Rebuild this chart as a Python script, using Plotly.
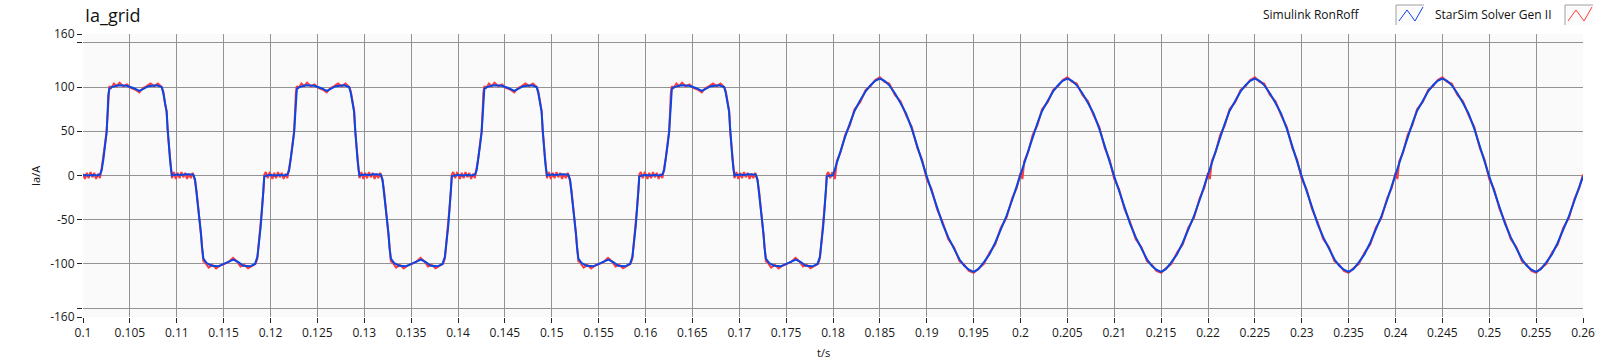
import plotly.graph_objects as go

# ---------------- data ----------------
title_text = "Ia_grid"
x_label = "t/s"
y_label = "Ia/A"
series_names = ["Simulink RonRoff", "StarSim Solver Gen II"]
series_colors = ["#0a46e6", "#ff3c3c"]

# the waveform repeats: four square-like periods, then four sine-like periods
square_period_starts = [0.10, 0.12, 0.14, 0.16]
sine_period_starts = [0.18, 0.20, 0.22, 0.24]

# one square-like period, Simulink RonRoff (time offset in s, current in A)
sq_blue_dt = [0.0000, 0.0005, 0.0010, 0.0015, 0.0018, 0.00199, 0.00217, 0.00235,
              0.00252, 0.00263, 0.00270, 0.00281, 0.00306, 0.00377, 0.00466,
              0.00537, 0.00601, 0.00644, 0.00697, 0.00786, 0.00839, 0.00857,
              0.00875, 0.00892, 0.00903, 0.00914, 0.00928, 0.00939, 0.00949,
              0.0100, 0.0105, 0.0110, 0.01177, 0.01195, 0.01212, 0.01230,
              0.01248, 0.01259, 0.01269, 0.01284, 0.01319, 0.01372, 0.01444,
              0.01515, 0.01604, 0.01657, 0.01710, 0.01781, 0.01835, 0.01860,
              0.01877, 0.01895, 0.01909, 0.01924, 0.01934, 0.01959, 0.0199]
sq_blue_v = [0.5, 0.0, 0.5, 0.0, 1.0, 6, 18, 34,
             49, 72, 91, 98, 100, 102, 101.5,
             99, 95.7, 98, 101, 102, 100, 93,
             83, 72, 53, 34, 18, 7, 0,
             1, 0.5, 1.5, 1, -4.6, -20, -35,
             -50, -66, -81, -94, -99, -102, -102.7,
             -99, -95, -98, -102, -102.7, -100, -92,
             -77, -58, -39, -16, -1, 0, 0.5]

# one square-like period, StarSim Solver Gen II
sq_red_dt = [0.0000, 0.0002, 0.0004, 0.0006, 0.0008, 0.0010, 0.0012, 0.0014, 0.0016, 0.0018,
             0.00199, 0.00217, 0.00235, 0.00252, 0.00263, 0.00270, 0.00281,
             0.0030, 0.0033, 0.0036, 0.0039, 0.0043, 0.0047, 0.0051, 0.0056,
             0.0060, 0.0064, 0.0068, 0.0072, 0.0076, 0.0080, 0.0084,
             0.00857, 0.00875, 0.00892, 0.00903, 0.00914, 0.00928, 0.00939, 0.00949,
             0.0097, 0.0099, 0.0101, 0.0103, 0.0105, 0.0107, 0.0109, 0.0111, 0.0113,
             0.0115, 0.0117,
             0.01195, 0.01212, 0.01230, 0.01248, 0.01259, 0.01269, 0.01284,
             0.0130, 0.0134, 0.0138, 0.0142, 0.0146, 0.0150, 0.0155, 0.0160,
             0.0164, 0.0168, 0.0172, 0.0176, 0.0180, 0.0184,
             0.01860, 0.01877, 0.01895, 0.01909, 0.01924, 0.01934,
             0.0195, 0.0197, 0.0199]
sq_red_v = [2, -4, 3, -3, 4, -2, 3, -4, 2, -3,
            8, 20, 36, 50, 74, 93, 101,
            99, 104, 101, 105, 101, 103, 99, 97,
            94, 99, 101, 104, 101, 104, 100,
            95, 81, 73, 50, 35, 16, 8, -3,
            4, -4, 3, -3, 4, -2, 3, -4, 2,
            -3, 3,
            -6, -18, -37, -48, -68, -79, -97,
            -98, -104, -101, -105, -102, -100, -98, -93,
            -97, -103, -101, -105, -102, -100,
            -94, -75, -60, -37, -18, 1,
            4, -3, 3]

# one sine-like period, Simulink RonRoff
sine_blue_dt = [0.0000, 0.0004, 0.0008, 0.0013, 0.0018, 0.0023, 0.0029, 0.0035,
                0.0040, 0.0045, 0.0050, 0.0055, 0.0060, 0.0066, 0.0072, 0.0078,
                0.0084, 0.0090, 0.0095, 0.0100, 0.0105, 0.0111, 0.0117, 0.0123,
                0.0129, 0.0135, 0.0140, 0.0145, 0.0150, 0.0155, 0.0161, 0.0167,
                0.0173, 0.0179, 0.0185, 0.0191, 0.0196]
sine_blue_v = [0, 14, 28, 44, 59, 73, 85, 95.5,
               102, 107, 109.5, 107, 102, 93, 82, 70,
               53, 34, 16, -1, -17, -36, -55, -70,
               -83, -95, -102, -106.5, -109, -106, -98, -89,
               -76, -61, -46, -28, -12]

# one sine-like period, StarSim Solver Gen II
sine_red_dt = [0.0000, 0.0002, 0.0004, 0.0008, 0.0013, 0.0018, 0.0023, 0.0029, 0.0035,
               0.0040, 0.0045, 0.0050, 0.0055, 0.0060, 0.0066, 0.0072, 0.0078,
               0.0084, 0.0090, 0.0095, 0.0100, 0.0105, 0.0111, 0.0117, 0.0123,
               0.0129, 0.0135, 0.0140, 0.0145, 0.0150, 0.0155, 0.0161, 0.0167,
               0.0173, 0.0179, 0.0185, 0.0191, 0.0196]
sine_red_v = [3, -4, 16, 26, 46, 57, 75, 83, 97,
              101, 108, 111, 106, 104, 91, 84, 68,
              55, 31, 18, -4, -15, -38, -53, -72,
              -81, -97, -101, -108, -110, -105, -100, -87,
              -78, -59, -48, -26, -14]

end_t = 0.26
end_blue_v = -1
end_red_v = 1

x_tick_vals = [0.1, 0.105, 0.11, 0.115, 0.12, 0.125, 0.13, 0.135, 0.14, 0.145,
               0.15, 0.155, 0.16, 0.165, 0.17, 0.175, 0.18, 0.185, 0.19, 0.195,
               0.2, 0.205, 0.21, 0.215, 0.22, 0.225, 0.23, 0.235, 0.24, 0.245,
               0.25, 0.255, 0.26]
x_tick_labels = ["0.1", "0.105", "0.11", "0.115", "0.12", "0.125", "0.13", "0.135",
                 "0.14", "0.145", "0.15", "0.155", "0.16", "0.165", "0.17", "0.175",
                 "0.18", "0.185", "0.19", "0.195", "0.2", "0.205", "0.21", "0.215",
                 "0.22", "0.225", "0.23", "0.235", "0.24", "0.245", "0.25", "0.255",
                 "0.26"]
y_tick_vals = [-160, -150, -100, -50, 0, 50, 100, 150, 160]
y_tick_labels = ["-160", "", "-100", "-50", "0", "50", "100", "", "160"]


# ---------------- build the series from the period tables ----------------
def build(sq_dt, sq_v, sn_dt, sn_v, end_v):
    t, v = [], []
    for s in square_period_starts:
        t += [s + d for d in sq_dt]
        v += list(sq_v)
    for s in sine_period_starts:
        t += [s + d for d in sn_dt]
        v += list(sn_v)
    t.append(end_t)
    v.append(end_v)
    return t, v


blue_t, blue_v = build(sq_blue_dt, sq_blue_v, sine_blue_dt, sine_blue_v, end_blue_v)
red_t, red_v = build(sq_red_dt, sq_red_v, sine_red_dt, sine_red_v, end_red_v)

# ---------------- layout geometry (pixels) ----------------
W, H = 1608, 361
L, R, T, B = 83, 25, 34, 44
PW, PH = W - L - R, H - T - B
FONT = "Open Sans, Noto Sans, DejaVu Sans, sans-serif"


def px(x):
    return (x - L) / PW


def py(y):
    return (H - B - y) / PH


fig = go.Figure()
fig.add_trace(go.Scatter(x=red_t, y=red_v, mode="lines", name=series_names[1],
                         line=dict(color=series_colors[1], width=2), showlegend=False))
fig.add_trace(go.Scatter(x=blue_t, y=blue_v, mode="lines", name=series_names[0],
                         line=dict(color=series_colors[0], width=2), showlegend=False))

axis_common = dict(showgrid=True, gridcolor="#939393", gridwidth=1, zeroline=False,
                   showline=False, ticks="outside", ticklen=5, tickwidth=1,
                   tickcolor="#222222", tickfont=dict(family=FONT, size=12, color="#1a1a1a"))
fig.update_xaxes(range=[0.1, 0.26], tickmode="array", tickvals=x_tick_vals,
                 ticktext=x_tick_labels, **axis_common)
fig.update_yaxes(range=[-160, 160], tickmode="array", tickvals=y_tick_vals,
                 ticktext=y_tick_labels, **axis_common)

annotations = [
    dict(text=title_text, x=px(83), y=py(15), xanchor="left", yanchor="middle",
         font=dict(family=FONT, size=18, color="#111111")),
    dict(text=series_names[0], x=px(1362), y=py(15), xanchor="right", yanchor="middle",
         font=dict(family=FONT, size=12, color="#111111")),
    dict(text=series_names[1], x=px(1554), y=py(15), xanchor="right", yanchor="middle",
         font=dict(family=FONT, size=12, color="#111111")),
    dict(text=y_label, x=px(35), y=py(176), xanchor="center", yanchor="middle",
         textangle=-90, font=dict(family=FONT, size=11, color="#111111")),
    dict(text=x_label, x=px(823), y=py(352), xanchor="center", yanchor="middle",
         font=dict(family=FONT, size=11, color="#111111")),
]
for a in annotations:
    a.update(xref="paper", yref="paper", showarrow=False)

shapes = []
for x0, col in [(1396, series_colors[0]), (1565, series_colors[1])]:
    shapes.append(dict(type="rect", xref="paper", yref="paper", x0=px(x0), x1=px(x0 + 28),
                       y0=py(25), y1=py(5), fillcolor="#fbfbfb", line=dict(width=0)))
    shapes.append(dict(type="line", xref="paper", yref="paper", x0=px(x0), x1=px(x0),
                       y0=py(25), y1=py(5), line=dict(color="#a0a0a0", width=1)))
    shapes.append(dict(type="line", xref="paper", yref="paper", x0=px(x0), x1=px(x0 + 28),
                       y0=py(5), y1=py(5), line=dict(color="#a0a0a0", width=1)))
    pts = [(x0 + 3, 21), (x0 + 11, 10), (x0 + 19, 21), (x0 + 27, 7)]
    path = "M " + " L ".join(f"{px(a):.5f},{py(b):.5f}" for a, b in pts)
    shapes.append(dict(type="path", xref="paper", yref="paper", path=path,
                       line=dict(color=col, width=1)))

fig.update_layout(width=W, height=H, margin=dict(l=L, r=R, t=T, b=B),
                  paper_bgcolor="white", plot_bgcolor="#fafafa",
                  annotations=annotations, shapes=shapes, showlegend=False)

fig.write_html("out.html")
